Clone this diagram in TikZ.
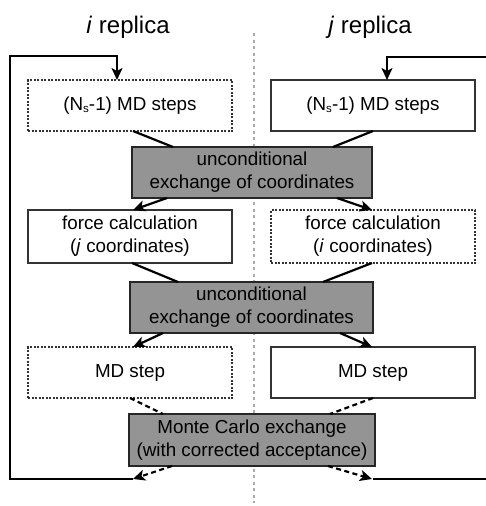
\documentclass[tikz,border=0pt]{standalone}
\usepackage{fontspec}
\setmainfont{Liberation Sans}
\usetikzlibrary{arrows.meta}
\definecolor{boxgray}{RGB}{148,148,148}
\definecolor{sepgray}{RGB}{170,170,170}
\begin{document}
\begin{tikzpicture}[x=1pt,y=-1pt,
  every node/.style={inner sep=0pt, outer sep=0pt},
  boxtxt/.style={font=\fontsize{18.8}{23}\selectfont, align=center},
  colbox/.style={boxtxt, draw=black!80, line width=1.1pt, fill=white, minimum width=204pt},
  solidbox/.style={colbox},
  dashbox/.style={colbox, dash pattern=on 2pt off 1.5pt},
  graybox/.style={boxtxt, draw=black!85, line width=1.1pt, fill=boxgray},
  title/.style={font=\fontsize{24}{28}\selectfont},
  tip/.style={-{Stealth[length=12pt,width=11pt,inset=3pt]}},
  conn/.style={line width=2.2pt, black},
  arr/.style={conn, tip},
  dconn/.style={conn, dash pattern=on 5pt off 3.5pt},
  darr/.style={arr, dash pattern=on 5pt off 3.5pt},
  loopline/.style={line width=2.5pt, black},
  looparr/.style={loopline, tip},
  sepline/.style={sepgray, line width=1.6pt, dash pattern=on 3pt off 3.5pt}
]
\useasboundingbox (0,0) rectangle (485,506);

% separator
\coordinate (septop) at (254,33);
\coordinate (sepbot) at (254,503);
\draw[sepline] (septop) -- (sepbot);

% titles
\node[title] (ti) at (128,27) {\textit{i} replica};
\node[title] (tj) at (370,27) {\textit{j} replica};

% boxes
\node[dashbox, minimum height=51pt] (tl) at (130,105.5) {(N\raisebox{-0.25ex}{\fontsize{11.5}{12}\selectfont s}-1) MD steps};
\node[solidbox, minimum height=51pt] (tr) at (373,105.5) {(N\raisebox{-0.25ex}{\fontsize{11.5}{12}\selectfont s}-1) MD steps};

\node[graybox, minimum width=240pt, minimum height=51pt] (g1) at (252,172.5) {unconditional\\exchange of coordinates};

\node[solidbox, minimum height=53pt] (fl) at (130,236.5) {force calculation\\(\textit{j} coordinates)};
\node[dashbox, minimum height=53pt] (fr) at (373,236.5) {force calculation\\(\textit{i} coordinates)};

\node[graybox, minimum width=243pt, minimum height=51pt] (g2) at (251.5,307.5) {unconditional\\exchange of coordinates};

\node[dashbox, minimum height=51pt] (ml) at (130,372.5) {MD step};
\node[solidbox, minimum height=51pt] (mr) at (373,372.5) {MD step};

\node[graybox, minimum width=246pt, minimum height=52pt] (g3) at (252,440) {Monte Carlo exchange\\(with corrected acceptance)};

% connectors
\draw[conn] ([xshift=3pt]tl.south) -- ([xshift=-79pt]g1.north);
\draw[conn] (tr.south) -- ([xshift=81pt]g1.north);
\draw[arr] ([xshift=-85pt]g1.south) -- ([xshift=3pt]fl.north);
\draw[arr] ([xshift=85pt]g1.south) -- ([xshift=-1pt]fr.north);

\draw[conn] ([xshift=2pt]fl.south) -- ([xshift=-73.5pt]g2.north);
\draw[conn] ([xshift=-1pt]fr.south) -- ([xshift=71.5pt]g2.north);
\draw[arr] ([xshift=-88.5pt]g2.south) -- ([xshift=3pt]ml.north);
\draw[arr] ([xshift=88.5pt]g2.south) -- ([xshift=-1pt]mr.north);

\draw[dconn] (ml.south) -- ([xshift=-89pt]g3.north);
\draw[dconn] (mr.south) -- ([xshift=78pt]g3.north);

\coordinate (bl) at (133,479);
\coordinate (br) at (372,479);
\draw[darr] ([xshift=-80pt]g3.south) -- (bl);
\draw[darr] ([xshift=76pt]g3.south) -- (br);

% loops
\coordinate (lbot) at (10,479);
\coordinate (ltop) at (10,56);
\draw[looparr] (bl) -- (lbot) -- (ltop) -| ([xshift=-13pt]tl.north);
\coordinate (rtop) at (486,57);
\coordinate (rbot) at (486,479);
\draw[looparr] (rtop) -| ([xshift=14pt]tr.north);
\draw[loopline] ([xshift=1pt]br) -- (rbot);
\end{tikzpicture}
\end{document}
